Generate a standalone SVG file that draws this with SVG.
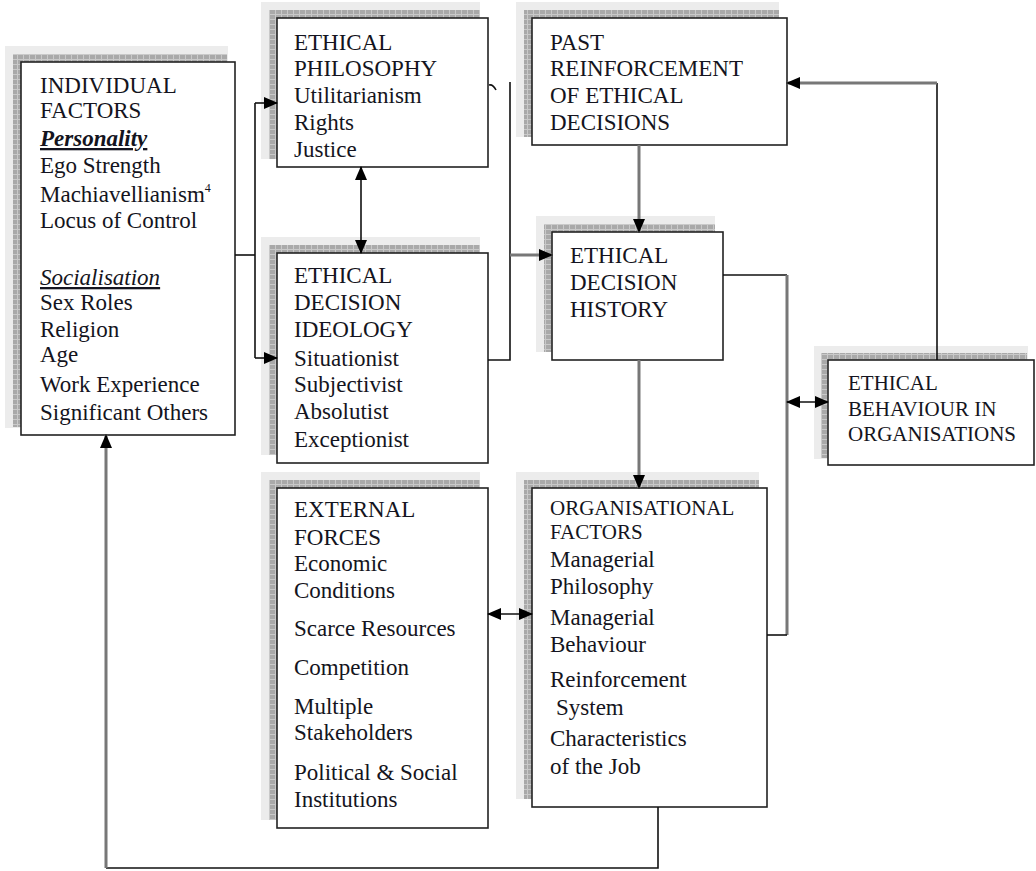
<svg xmlns="http://www.w3.org/2000/svg" width="1036" height="871" viewBox="0 0 1036 871">
<defs>
<pattern id="hatch" width="6" height="5" patternUnits="userSpaceOnUse">
<rect width="6" height="5" fill="#a9a9a9"/>
<path d="M0,4.5 H6 M5.5,0 V5" stroke="#c9c9c9" stroke-width="1"/>
</pattern>
<marker id="ah" markerWidth="14" markerHeight="12" refX="13" refY="6" orient="auto-start-reverse" markerUnits="userSpaceOnUse">
<path d="M0,0 L14,6 L0,12 Z" fill="#000"/>
</marker>
<style>
.box{fill:#fff;stroke:#222;stroke-width:1.6}
.halo{fill:#ececec}
.sh{fill:url(#hatch)}
text{font-family:"Liberation Serif","Times New Roman",serif;font-size:23px;fill:#141420}
.sm{font-size:21px}
.hd{text-decoration:underline;font-style:italic}
.c{fill:none;stroke:#111;stroke-width:1.6}
.g{fill:none;stroke:#777;stroke-width:3}
</style>
</defs>

<g id="individual-factors">
<rect class="halo" x="5" y="46" width="223" height="382"/>
<rect class="sh" x="13" y="54" width="214" height="373"/>
<rect class="box" x="21" y="62" width="214" height="373"/>
<text x="40" y="93">INDIVIDUAL</text>
<text x="40" y="118">FACTORS</text>
<text x="40" y="146" class="hd" font-weight="bold">Personality</text>
<text x="40" y="173">Ego Strength</text>
<text x="40" y="202">Machiavellianism<tspan font-size="12" dy="-10">4</tspan></text>
<text x="40" y="228">Locus of Control</text>
<text x="40" y="285" class="hd">Socialisation</text>
<text x="40" y="310">Sex Roles</text>
<text x="40" y="337">Religion</text>
<text x="40" y="362">Age</text>
<text x="40" y="392">Work Experience</text>
<text x="40" y="420">Significant Others</text>
</g>

<g id="ethical-philosophy">
<rect class="halo" x="261" y="2" width="219" height="157"/>
<rect class="sh" x="269" y="10" width="211" height="149"/>
<rect class="box" x="277" y="18" width="211" height="149"/>
<text x="294" y="50">ETHICAL</text>
<text x="294" y="76">PHILOSOPHY</text>
<text x="294" y="103">Utilitarianism</text>
<text x="294" y="130">Rights</text>
<text x="294" y="157">Justice</text>
</g>

<g id="past-reinforcement">
<rect class="halo" x="516" y="2" width="263" height="135"/>
<rect class="sh" x="524" y="10" width="255" height="127"/>
<rect class="box" x="532" y="18" width="255" height="127"/>
<text x="550" y="50">PAST</text>
<text x="550" y="76">REINFORCEMENT</text>
<text x="550" y="103">OF ETHICAL</text>
<text x="550" y="130">DECISIONS</text>
</g>

<g id="ethical-decision-ideology">
<rect class="halo" x="261" y="237" width="219" height="218"/>
<rect class="sh" x="269" y="245" width="211" height="210"/>
<rect class="box" x="277" y="253" width="211" height="210"/>
<text x="294" y="283">ETHICAL</text>
<text x="294" y="310">DECISION</text>
<text x="294" y="337">IDEOLOGY</text>
<text x="294" y="366">Situationist</text>
<text x="294" y="392">Subjectivist</text>
<text x="294" y="419">Absolutist</text>
<text x="294" y="447">Exceptionist</text>
</g>

<g id="ethical-decision-history">
<rect class="halo" x="536" y="216" width="179" height="136"/>
<rect class="sh" x="544" y="224" width="171" height="128"/>
<rect class="box" x="552" y="232" width="171" height="128"/>
<text x="570" y="263">ETHICAL</text>
<text x="570" y="290">DECISION</text>
<text x="570" y="317">HISTORY</text>
</g>

<g id="ethical-behaviour">
<rect class="halo" x="814" y="346" width="214" height="113"/>
<rect class="sh" x="821" y="353" width="206" height="105"/>
<rect class="box" x="828" y="360" width="206" height="105"/>
<text x="848" y="390" class="sm">ETHICAL</text>
<text x="848" y="416" class="sm">BEHAVIOUR IN</text>
<text x="848" y="441" class="sm">ORGANISATIONS</text>
</g>

<g id="external-forces">
<rect class="halo" x="261" y="472" width="219" height="348"/>
<rect class="sh" x="269" y="480" width="211" height="340"/>
<rect class="box" x="277" y="488" width="211" height="340"/>
<text x="294" y="517">EXTERNAL</text>
<text x="294" y="545">FORCES</text>
<text x="294" y="571">Economic</text>
<text x="294" y="598">Conditions</text>
<text x="294" y="636">Scarce Resources</text>
<text x="294" y="675">Competition</text>
<text x="294" y="714">Multiple</text>
<text x="294" y="740">Stakeholders</text>
<text x="294" y="780">Political &amp; Social</text>
<text x="294" y="807">Institutions</text>
</g>

<g id="organisational-factors">
<rect class="halo" x="516" y="472" width="243" height="327"/>
<rect class="sh" x="524" y="480" width="235" height="319"/>
<rect class="box" x="532" y="488" width="235" height="319"/>
<text x="550" y="515" class="sm">ORGANISATIONAL</text>
<text x="550" y="539" class="sm">FACTORS</text>
<text x="550" y="567">Managerial</text>
<text x="550" y="594">Philosophy</text>
<text x="550" y="625">Managerial</text>
<text x="550" y="652">Behaviour</text>
<text x="550" y="687">Reinforcement</text>
<text x="556" y="715">System</text>
<text x="550" y="746">Characteristics</text>
<text x="550" y="774">of the Job</text>
</g>

<g id="connectors">
<path class="c" d="M235,255 H255" stroke-width="2.5"/>
<path class="c" d="M255,103 V358"/>
<path class="c" d="M255,103 H277" marker-end="url(#ah)"/>
<path class="c" d="M255,358 H277" marker-end="url(#ah)"/>
<path class="c" d="M361,167 V253" marker-start="url(#ah)" marker-end="url(#ah)"/>
<path class="c" d="M488,360 H510 V82"/>
<path class="c" d="M489,85 Q493,84 496,90" stroke-width="1.2"/>
<path class="g" d="M510,255 H552" marker-end="url(#ah)"/>
<path class="g" d="M639,145 V232" marker-end="url(#ah)"/>
<path class="g" d="M639,360 V488" marker-end="url(#ah)"/>
<path class="c" d="M723,275 H787"/>
<path class="g" d="M787,275 V635" stroke-width="2.5"/>
<path class="c" d="M787,635 H767"/>
<path class="c" d="M787,402 H828" stroke-width="2.5" marker-start="url(#ah)" marker-end="url(#ah)"/>
<path class="c" d="M937,360 V83"/>
<path class="g" d="M937,83 H787" marker-end="url(#ah)"/>
<path class="c" d="M488,614 H532" stroke-width="2.5" marker-start="url(#ah)" marker-end="url(#ah)"/>
<path class="c" d="M658,807 V868 H106"/>
<path class="g" d="M106,868 V435" marker-end="url(#ah)"/>
</g>
</svg>
